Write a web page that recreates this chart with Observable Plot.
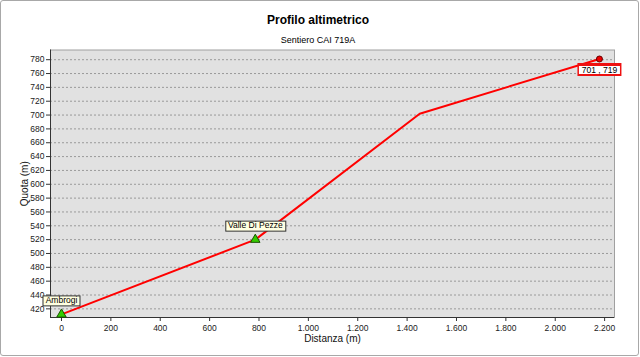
<!DOCTYPE html>
<html><head><meta charset="utf-8">
<script src="https://cdn.jsdelivr.net/npm/d3@7"></script>
<script src="https://cdn.jsdelivr.net/npm/@observablehq/plot@0.6"></script>
<style>
body{margin:0;background:#fff;}
#wrap{position:relative;width:640px;height:357px;font-family:"Liberation Sans",Arial,sans-serif;overflow:hidden;}
#frame{position:absolute;left:0;top:0;width:637px;height:354px;border:1px solid #a8a8a8;border-radius:3px;box-sizing:content-box;}
#title{position:absolute;top:13px;left:0;width:636px;text-align:center;font-weight:bold;font-size:12px;color:#000;}
#sub{position:absolute;top:35px;left:0;width:636px;text-align:center;font-size:9px;color:#000;}
#chart{position:absolute;left:0;top:0;}
</style></head>
<body>
<div id="wrap">
<div id="frame"></div>
<div id="title">Profilo altimetrico</div>
<div id="sub">Sentiero CAI 719A</div>
<div id="chart"></div>
</div>
<script>
const distanza = [0, 785, 1451, 2179];
const quota = [412, 520, 702, 781];
const waypointNames = ["Ambrogi", "Valle Di Pezze"];
const waypointX = [0, 785];
const waypointY = [412, 520];
const endLabel = ["701 , 719"];
const endX = [2179];
const endY = [781];
const yTicks = [420,440,460,480,500,520,540,560,580,600,620,640,660,680,700,720,740,760,780];
const xTicks = [0,200,400,600,800,1000,1200,1400,1600,1800,2000,2200];
const xDomain = [-44.5, 2240];
const yDomain = [407.5, 794];

const profile = distanza.map((d, i) => ({x: d, y: quota[i]}));
const waypoints = waypointNames.map((n, i) => ({name: n, x: waypointX[i], y: waypointY[i]}));
const ends = endLabel.map((n, i) => ({name: n, x: endX[i], y: endY[i]}));
const fmt = v => d3.format(",")(v).replace(/,/g, ".");

const chart = Plot.plot({
  width: 640, height: 357,
  marginTop: 49.5, marginLeft: 50, marginRight: 26, marginBottom: 40,
  style: {fontFamily: '"Liberation Sans", Arial, sans-serif', fontSize: "8px", background: "transparent", color: "#222"},
  x: {domain: xDomain, ticks: xTicks},
  y: {domain: yDomain, ticks: yTicks},
  marks: [
    Plot.frame({fill: "#e1e1e1", stroke: "#a0a0a0"}),
    Plot.gridY(yTicks, {stroke: "#9a9a9a", strokeOpacity: 1, strokeDasharray: "2,2"}),
    Plot.ruleX([xDomain[0]], {stroke: "#333"}),
    Plot.ruleY([yDomain[0]], {stroke: "#333"}),
    Plot.axisY(yTicks, {tickSize: 4, tickPadding: 2, fontSize: 8.5, label: null, stroke: "#333", fill: "#222"}),
    Plot.axisX(xTicks, {tickSize: 4, tickPadding: 3, fontSize: 8.5, tickFormat: fmt, label: null, stroke: "#333", fill: "#222"}),
    Plot.text(["Quota (m)"], {frameAnchor: "left", textAnchor: "middle", dx: -26, rotate: -90, fontSize: 10, fill: "#111"}),
    Plot.text(["Distanza (m)"], {frameAnchor: "bottom", dy: 21, lineAnchor: "middle", fontSize: 10, fill: "#111"}),
    Plot.line(profile, {x: "x", y: "y", stroke: "#ff0000", strokeWidth: 2}),
    Plot.dot(waypoints, {x: "x", y: "y", symbol: "triangle", r: 3.5, fill: "#33cc00", stroke: "#1a5200", strokeWidth: 1}),
    Plot.dot(ends, {x: "x", y: "y", r: 3, fill: "#ee0000", stroke: "#660000", strokeWidth: 1}),
    Plot.text(waypoints, {x: "x", y: "y", text: "name", dy: -14, fontSize: 8.5, fill: "#000", className: "wplabel"}),
    Plot.text(ends, {x: "x", y: "y", text: "name", dy: 11, fontSize: 8.5, fill: "#000", className: "endlabel"})
  ]
});
document.getElementById("chart").appendChild(chart);

const NS = "http://www.w3.org/2000/svg";
function rect(t, x, y, w, h, fill, stroke) {
  const r = document.createElementNS(NS, "rect");
  r.setAttribute("x", x); r.setAttribute("y", y);
  r.setAttribute("width", w); r.setAttribute("height", h);
  r.setAttribute("fill", fill);
  r.setAttribute("stroke", stroke || "none");
  const tr = t.getAttribute("transform");
  if (tr) r.setAttribute("transform", tr);
  t.parentNode.insertBefore(r, t);
  return r;
}
function boxes(cls, draw) {
  chart.querySelectorAll("g." + cls + " text").forEach(t => draw(t, t.getBBox()));
}
boxes("wplabel", (t, b) => {
  rect(t, Math.round(b.x - 3) + 0.5, Math.round(b.y) + 0.5, Math.round(b.width + 5), Math.round(b.height), "#ffffe1", "#333");
});
boxes("endlabel", (t, b) => {
  const x = Math.round(b.x - 4), y = Math.round(b.y - 2), w = Math.round(b.width + 8), h = Math.round(b.height + 3);
  rect(t, x, y, w, h, "#ee1111", null);
  rect(t, x + 1.5, y + 3, w - 3, h - 5, "#ffffff", null);
});
</script>
</body></html>
